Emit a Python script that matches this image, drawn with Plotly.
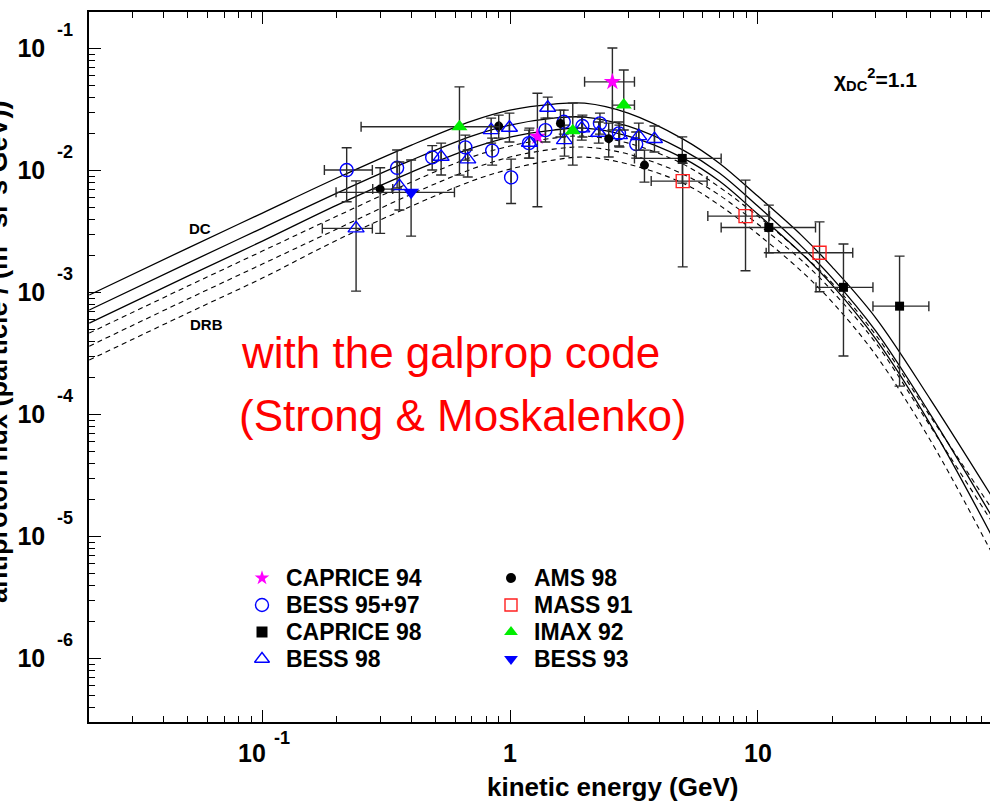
import math
import plotly.graph_objects as go

# ---------------- model curves (galprop), log10 of flux ----------------
curve_energy = [0.02, 0.05, 0.1, 0.2, 0.4, 0.7, 1.0, 1.5, 2.0, 3.0, 5.0, 7.0,
                10, 15, 20, 30, 50, 90]
dc_log_flux = [
    [-3.020, -2.635, -2.348, -2.061, -1.791, -1.594, -1.504, -1.455, -1.447, -1.529,
     -1.742, -1.939, -2.209, -2.529, -2.791, -3.209, -3.881, -4.701],
    [-3.143, -2.758, -2.471, -2.184, -1.914, -1.717, -1.627, -1.570, -1.561, -1.636,
     -1.832, -2.020, -2.291, -2.619, -2.881, -3.316, -4.004, -4.865],
    [-3.250, -2.865, -2.578, -2.283, -2.012, -1.816, -1.725, -1.668, -1.652, -1.718,
     -1.898, -2.086, -2.356, -2.677, -2.939, -3.382, -4.086, -5.029],
]
drb_log_flux = [
    [-3.332, -2.947, -2.660, -2.373, -2.094, -1.889, -1.799, -1.734, -1.717, -1.775,
     -1.947, -2.135, -2.373, -2.677, -2.922, -3.349, -4.021, -4.799],
    [-3.439, -3.053, -2.766, -2.479, -2.193, -1.988, -1.889, -1.824, -1.807, -1.865,
     -2.029, -2.201, -2.438, -2.734, -2.988, -3.414, -4.102, -4.906],
    [-3.553, -3.168, -2.881, -2.570, -2.291, -2.086, -1.988, -1.914, -1.889, -1.947,
     -2.103, -2.283, -2.520, -2.824, -3.078, -3.513, -4.217, -5.168],
]

# ---------------- measurements ----------------
N = None
# CAPRICE 94
c94_E = [1.29, 2.59]
c94_Elo = [N, 2.00]
c94_Ehi = [N, 3.18]
c94_F = [0.0190, 0.0534]
c94_Flo = [0.00505, 0.0215]
c94_Fhi = [0.0430, 0.101]

# BESS 95+97
b95_E = [0.219, 0.350, 0.485, 0.660, 0.847, 1.010, 1.192, 1.390, 1.648, 1.960, 2.307, 2.754, 3.232]
b95_Elo = [0.178, N, N, N, N, N, N, N, N, N, N, N, N]
b95_Ehi = [0.278, N, N, N, N, N, N, N, N, N, N, N, N]
b95_F = [0.0101, 0.01054, 0.01283, 0.01549, 0.01459, 0.00879, 0.01679, 0.02147, 0.02512,
         0.02317, 0.02438, 0.02018, 0.01648]
b95_Flo = [0.00555, 0.00719, 0.0101, 0.01219, 0.01109, 0.00538, 0.01265, 0.01714, 0.0199,
           0.01884, 0.0199, 0.01589, 0.01265]
b95_Fhi = [0.01538, 0.01473, 0.01603, 0.01954, 0.01845, 0.01241, 0.02147, 0.0269, 0.0313,
           0.0285, 0.0296, 0.025, 0.0207]

# CAPRICE 98
c98_E = [4.96, 11.09, 22.2, 37.4]
c98_Elo = [3.18, 7.12, 17.2, 29.2]
c98_Ehi = [7.12, 17.12, 29.2, 49.1]
c98_F = [0.01259, 0.00342, 0.001104, 0.000774]
c98_Flo = [0.0079, 0.00212, 0.000302, 0.000171]
c98_Fhi = [0.0189, 0.00521, 0.0025, 0.00199]

# BESS 98
b98_E = [0.239, 0.3575, 0.527, 0.675, 0.839, 0.9945, 1.198, 1.420, 1.659, 1.948, 2.281,
         2.766, 3.31, 3.83]
b98_Elo = [0.1746] + [N] * 13
b98_Ehi = [0.278] + [N] * 13
b98_F = [0.003357, 0.00746, 0.01297, 0.01236, 0.02148, 0.02244, 0.0169, 0.03273, 0.01778,
         0.02218, 0.02042, 0.01954, 0.01918, 0.01813]
b98_Flo = [0.001028, 0.00475, 0.00919, 0.00885, 0.0168, 0.01714, 0.01265, 0.0269, 0.01315,
           0.01778, 0.0168, 0.0156, 0.01472, 0.01419]
b98_Fhi = [0.00824, 0.01175, 0.0168, 0.01473, 0.0269, 0.0296, 0.0223, 0.0400, 0.0236,
           0.02748, 0.025, 0.0236, 0.02449, 0.02317]

# AMS 98
ams_E = [0.299, 0.900, 1.598, 2.503, 3.49]
ams_Elo = [0.279, N, N, N, N]
ams_Ehi = [0.336, N, N, N, N]
ams_F = [0.00705, 0.02317, 0.02438, 0.01828, 0.01109]
ams_Flo = [0.00306, 0.01845, 0.01884, 0.01291, 0.00805]
ams_Fhi = [0.01054, 0.0285, 0.0313, 0.02449, 0.01472]

# MASS 91
m91_E = [4.98, 8.93, 17.77]
m91_Elo = [3.715, 6.29, 10.82]
m91_Ehi = [6.25, 11.16, 24.2]
m91_F = [0.0082, 0.004236, 0.00212]
m91_Flo = [0.001625, 0.00151, 0.001016]
m91_Fhi = [0.0115, 0.00836, 0.0038]

# IMAX 92
imx_E = [0.625, 1.792, 2.879]
imx_Elo = [0.2504, N, 2.592]
imx_Ehi = [0.906, N, 3.18]
imx_F = [0.02286, 0.02118, 0.03443]
imx_Flo = [0.00918, 0.01109, 0.0215]
imx_Fhi = [0.0486, 0.0357, 0.0667]

# BESS 93
b93_E = [0.3986]
b93_Elo = [0.1984]
b93_Ehi = [0.5964]
b93_F = [0.00663]
b93_Flo = [0.0029]
b93_Fhi = [0.0122]

# axis labels: mantissa and exponent are set separately
x_tick_vals = [0.1, 1, 10]
x_tick_mant = ["10", "1", "10"]
x_tick_exp = ["-1", "", ""]
y_tick_vals = [1e-6, 1e-5, 1e-4, 1e-3, 1e-2, 1e-1]
y_tick_exp = ["-6", "-5", "-4", "-3", "-2", "-1"]

FONT = "Liberation Sans"
W, H = 990, 803
L, R, T, B = 89, 0, 12, 81


def px(xp):
    return (xp - L) / (W - L - R)


def py(yp):
    return (H - B - yp) / (H - T - B)


def plus(v, hi):
    return [float("nan") if h is None else h - x for x, h in zip(v, hi)]


def minus(v, lo):
    return [float("nan") if l is None else x - l for x, l in zip(v, lo)]


fig = go.Figure()

for lf in dc_log_flux:
    fig.add_trace(go.Scatter(x=curve_energy, y=[10 ** v for v in lf], mode="lines",
                             line=dict(color="black", width=1.3, shape="spline", smoothing=1.0),
                             showlegend=False, hoverinfo="skip"))
for lf in drb_log_flux:
    fig.add_trace(go.Scatter(x=curve_energy, y=[10 ** v for v in lf], mode="lines",
                             line=dict(color="black", width=1.1, dash="5px,4px",
                                       shape="spline", smoothing=1.0),
                             showlegend=False, hoverinfo="skip"))

ERR = dict(color="#2a2a2a", thickness=1.4, width=5)

# key entries: (name, marker, column, row)
key_entries = []


def add_set(name, E, Elo, Ehi, F, Flo, Fhi, marker, key_marker, col, row):
    fig.add_trace(go.Scatter(
        x=E, y=F, mode="markers", name=name, showlegend=False,
        marker=marker,
        error_x=dict(type="data", symmetric=False, array=plus(E, Ehi),
                     arrayminus=minus(E, Elo), **ERR),
        error_y=dict(type="data", symmetric=False, array=plus(F, Fhi),
                     arrayminus=minus(F, Flo), **ERR),
    ))
    key_entries.append((name, key_marker, col, row))


add_set("CAPRICE 94", c94_E, c94_Elo, c94_Ehi, c94_F, c94_Flo, c94_Fhi,
        dict(symbol="star", size=13, color="#ff00ff", line=dict(width=0)),
        dict(symbol="star", size=11, color="#ff00ff", line=dict(width=0)), 0, 0)
add_set("BESS 95+97", b95_E, b95_Elo, b95_Ehi, b95_F, b95_Flo, b95_Fhi,
        dict(symbol="circle-open", size=13, color="#0000ff", line=dict(width=1.4)),
        dict(symbol="circle-open", size=13, color="#0000ff", line=dict(width=1.4)), 0, 1)
add_set("CAPRICE 98", c98_E, c98_Elo, c98_Ehi, c98_F, c98_Flo, c98_Fhi,
        dict(symbol="square", size=9, color="black"),
        dict(symbol="square", size=11, color="black"), 0, 2)
add_set("BESS 98", b98_E, b98_Elo, b98_Ehi, b98_F, b98_Flo, b98_Fhi,
        dict(symbol="triangle-up-open", size=14, color="#0000ff", line=dict(width=1.4)),
        dict(symbol="triangle-up-open", size=13, color="#0000ff", line=dict(width=1.4)), 0, 3)
add_set("AMS 98", ams_E, ams_Elo, ams_Ehi, ams_F, ams_Flo, ams_Fhi,
        dict(symbol="circle", size=9, color="black"),
        dict(symbol="circle", size=10, color="black"), 1, 0)
add_set("MASS 91", m91_E, m91_Elo, m91_Ehi, m91_F, m91_Flo, m91_Fhi,
        dict(symbol="square-open", size=13, color="#ff2020", line=dict(width=1.4)),
        dict(symbol="square-open", size=12, color="#ff2020", line=dict(width=1.4)), 1, 1)
add_set("IMAX 92", imx_E, imx_Elo, imx_Ehi, imx_F, imx_Flo, imx_Fhi,
        dict(symbol="triangle-up", size=14, color="#00ee00"),
        dict(symbol="triangle-up", size=12, color="#00ee00"), 1, 2)
add_set("BESS 93", b93_E, b93_Elo, b93_Ehi, b93_F, b93_Flo, b93_Fhi,
        dict(symbol="triangle-down", size=14, color="#0000ff"),
        dict(symbol="triangle-down", size=12, color="#0000ff"), 1, 3)

# key drawn on an overlay axis spanning the plot area in [0, 1] units
key_marker_x = [px(262), px(511)]
key_text_x = [px(284), px(532)]
key_row_y = [py(578), py(605), py(632), py(659)]
annotations = []
for name, mk, col, row in key_entries:
    fig.add_trace(go.Scatter(x=[key_marker_x[col]], y=[key_row_y[row]], mode="markers",
                             marker=mk, xaxis="x2", yaxis="y2", showlegend=False,
                             hoverinfo="skip"))
    annotations.append(dict(text=name, x=key_text_x[col], y=key_row_y[row], xref="paper",
                            yref="paper", showarrow=False, xanchor="left",
                            yanchor="middle",
                            font=dict(family=FONT, size=23, color="black", weight="bold")))

minor_x = [m * 10 ** e for e in (-2, -1, 0, 1) for m in range(2, 10)]
minor_y = [m * 10 ** e for e in (-7, -6, -5, -4, -3, -2, -1) for m in range(2, 10)]

fig.update_layout(
    xaxis=dict(
        type="log", range=[-1.7, 1.938], showgrid=False, zeroline=False,
        showline=True, linecolor="black", linewidth=1.5, mirror="allticks",
        ticks="inside", ticklen=12, tickwidth=1.2, tickcolor="black",
        tickvals=x_tick_vals, showticklabels=False,
        minor=dict(tickmode="array", tickvals=minor_x, ticks="inside", ticklen=6,
                   tickwidth=1.2, tickcolor="black", showgrid=False),
    ),
    yaxis=dict(
        type="log", range=[-6.52, -0.70], showgrid=False, zeroline=False,
        showline=True, linecolor="black", linewidth=1.5, mirror=False,
        ticks="inside", ticklen=12, tickwidth=1.2, tickcolor="black",
        tickvals=y_tick_vals, ticktext=["10"] * len(y_tick_vals), ticklabelstandoff=37,
        tickfont=dict(family=FONT, size=25, color="black", weight="bold"),
        minor=dict(tickmode="array", tickvals=minor_y, ticks="inside", ticklen=6,
                   tickwidth=1.2, tickcolor="black", showgrid=False),
    ),
    xaxis2=dict(overlaying="x", range=[0, 1], visible=False, fixedrange=True),
    yaxis2=dict(overlaying="y", range=[0, 1], visible=False, fixedrange=True),
)

# tick label annotations anchored on the axis values
for v, m, e in zip(x_tick_vals, x_tick_mant, x_tick_exp):
    lv = math.log10(v)
    annotations.append(dict(text=m, x=lv, xref="x", y=py(753), yref="paper",
                            xshift=-10 if e else 0, showarrow=False,
                            xanchor="center", yanchor="middle",
                            font=dict(family=FONT, size=25, color="black", weight="bold")))
    if e:
        annotations.append(dict(text=e, x=lv, xref="x", y=py(738), yref="paper",
                                xshift=19.5, showarrow=False, xanchor="center",
                                yanchor="middle",
                                font=dict(family=FONT, size=18, color="black",
                                          weight="bold")))
for v, e in zip(y_tick_vals, y_tick_exp):
    annotations.append(dict(text=e, x=px(65), xref="paper", y=math.log10(v), yref="y",
                            yshift=19, showarrow=False, xanchor="center",
                            yanchor="middle",
                            font=dict(family=FONT, size=18, color="black", weight="bold")))

annotations += [
    dict(text="antiproton flux (particle / (m<sup>2</sup> sr s GeV))", textangle=-90,
         x=px(-4), y=py(352), xref="paper", yref="paper", showarrow=False,
         xanchor="center", yanchor="middle",
         font=dict(family=FONT, size=27, color="black", weight="bold")),
    dict(text="kinetic energy (GeV)", x=px(612), y=py(787), xref="paper", yref="paper",
         showarrow=False, xanchor="center", yanchor="middle",
         font=dict(family=FONT, size=26, color="black", weight="bold")),
    dict(text="DC", x=px(200), y=py(228), xref="paper", yref="paper", showarrow=False,
         xanchor="center", yanchor="middle",
         font=dict(family=FONT, size=15, color="black", weight="bold")),
    dict(text="DRB", x=px(206), y=py(324), xref="paper", yref="paper", showarrow=False,
         xanchor="center", yanchor="middle",
         font=dict(family=FONT, size=15, color="black", weight="bold")),
    dict(text="χ<sub>DC</sub><sup>2</sup>=1.1", x=px(875), y=py(80), xref="paper",
         yref="paper", showarrow=False, xanchor="center", yanchor="middle",
         font=dict(family=FONT, size=21, color="black", weight="bold")),
    dict(text="with the galprop code", x=px(239), y=py(352), xref="paper", yref="paper",
         showarrow=False, xanchor="left", yanchor="middle",
         font=dict(family=FONT, size=44, color="#ff0000")),
    dict(text="(Strong &amp; Moskalenko)", x=px(237), y=py(415), xref="paper",
         yref="paper", showarrow=False, xanchor="left", yanchor="middle",
         font=dict(family=FONT, size=44, color="#ff0000")),
]

fig.update_layout(
    width=W, height=H,
    margin=dict(l=L, r=R, t=T, b=B, pad=0),
    paper_bgcolor="white", plot_bgcolor="white",
    showlegend=False,
    annotations=annotations,
)

fig.write_html("out.html")
